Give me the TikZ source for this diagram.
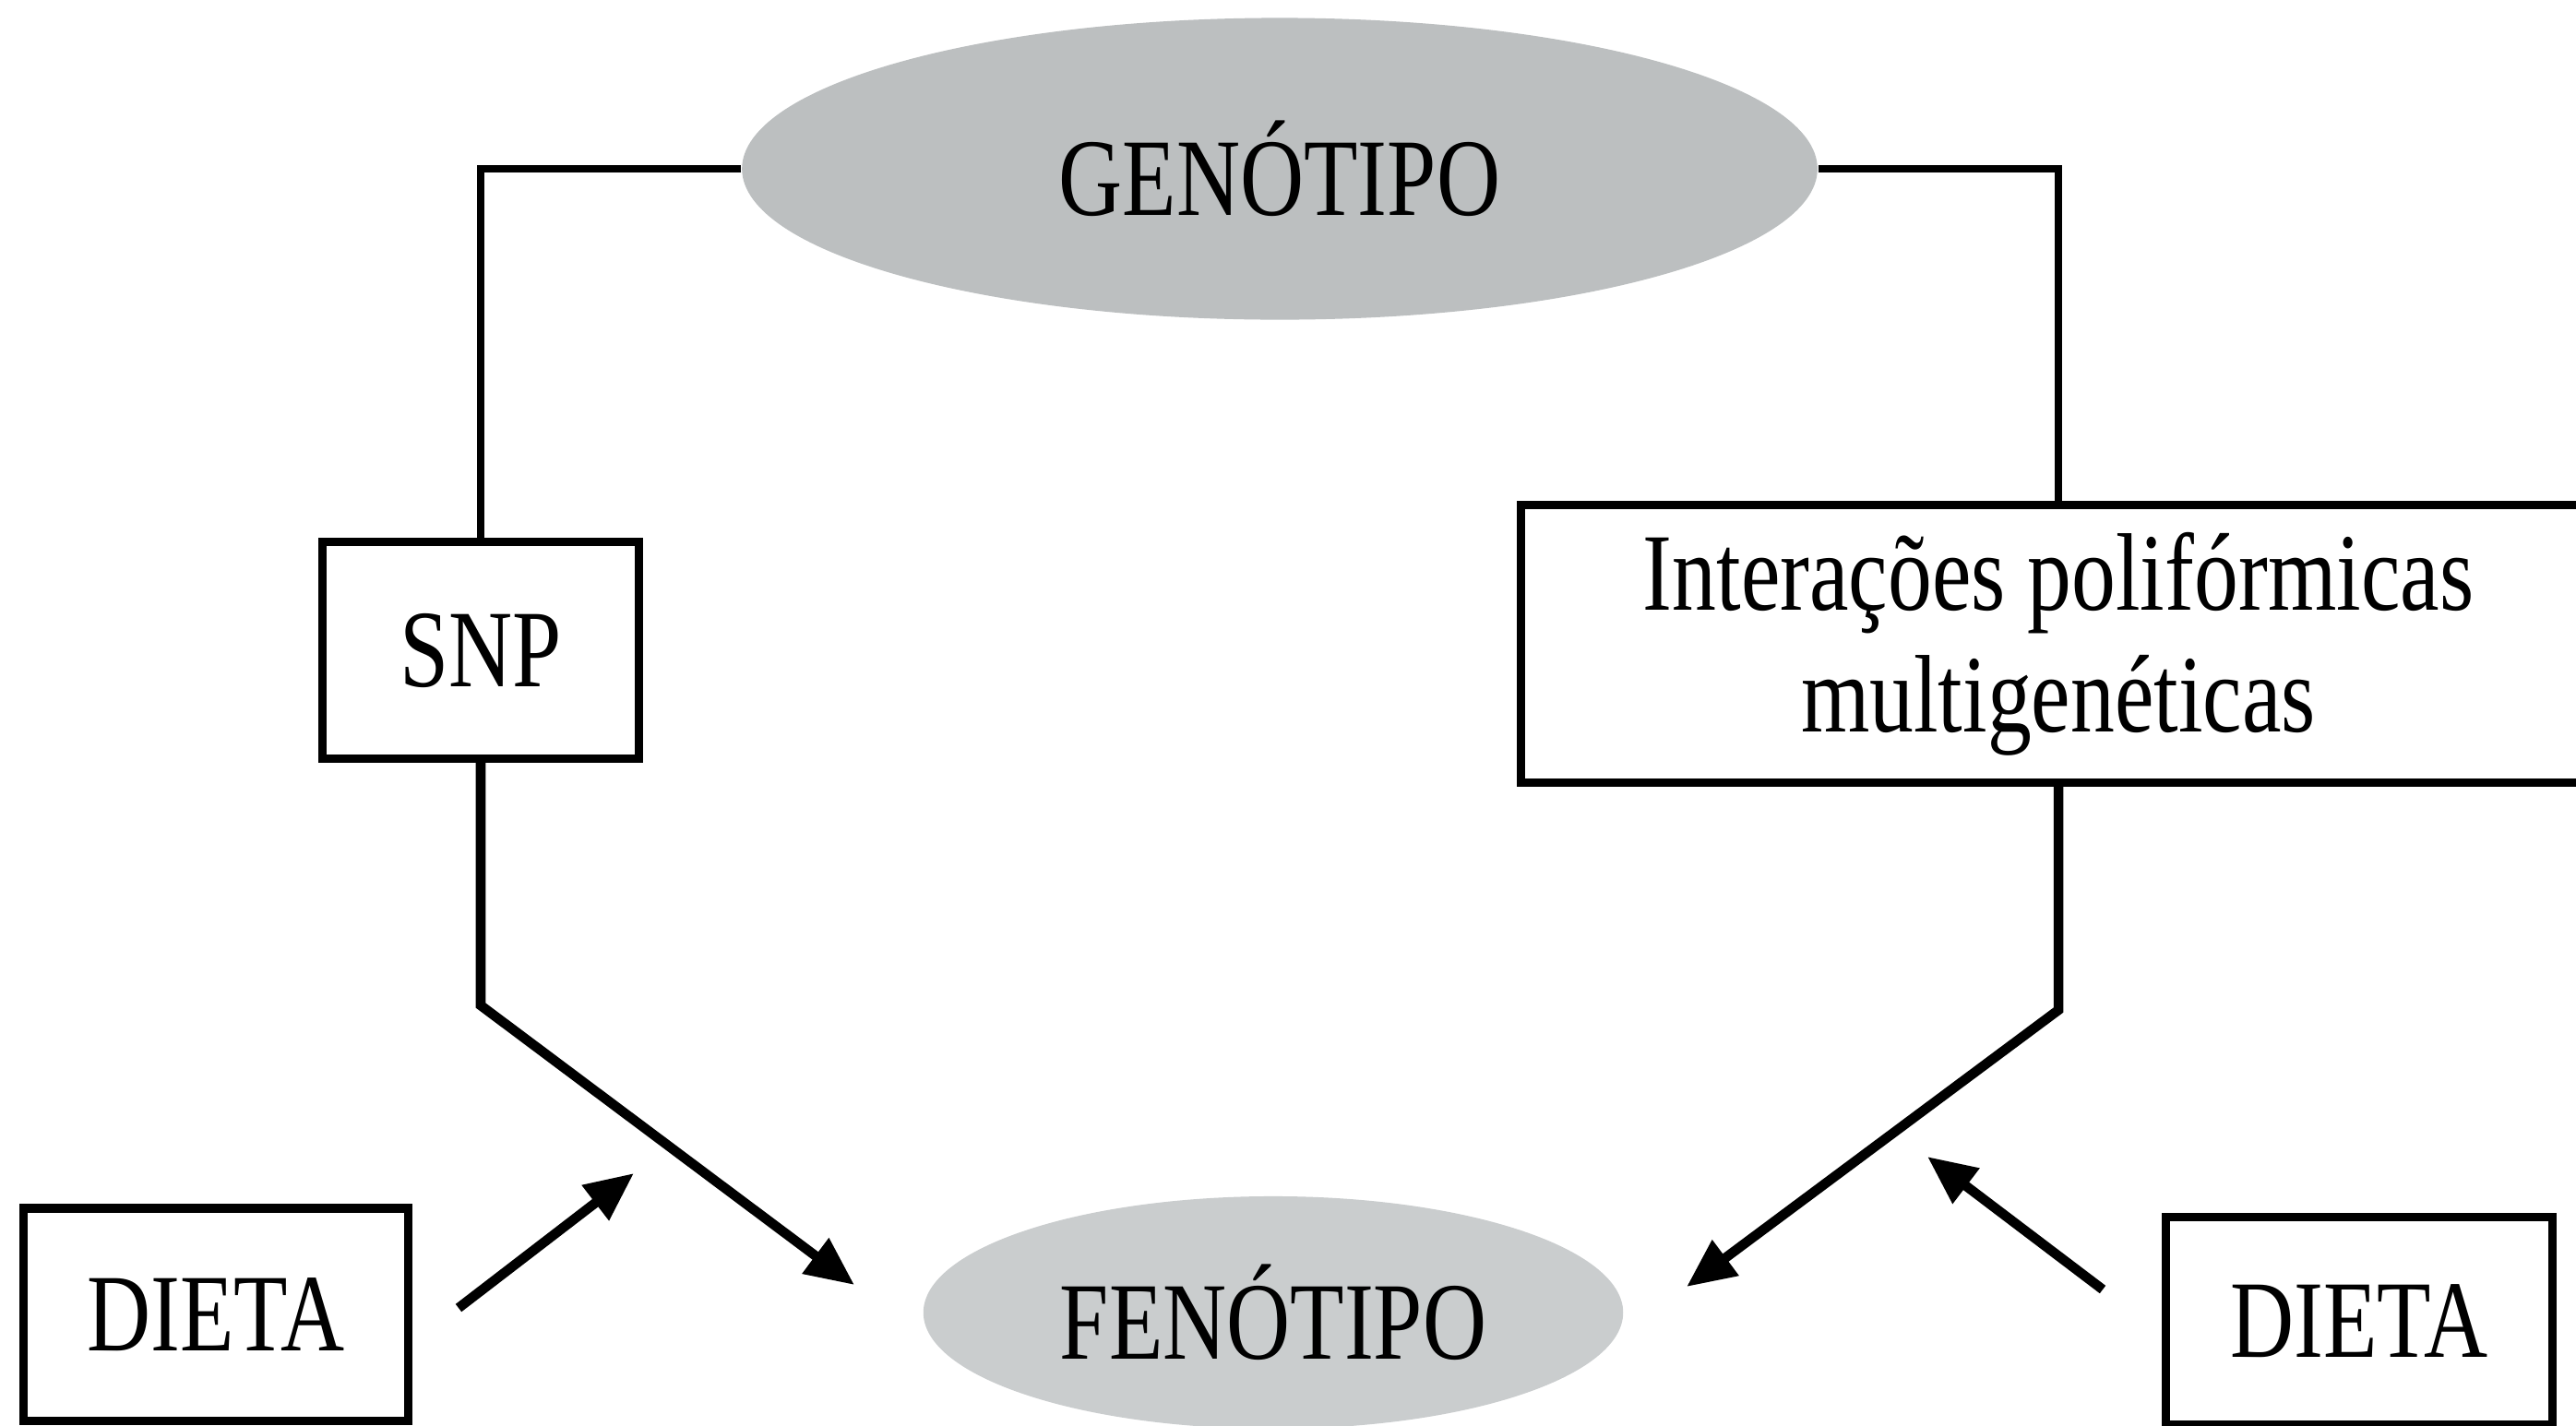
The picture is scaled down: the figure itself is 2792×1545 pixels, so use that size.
\documentclass[tikz,border=0pt]{standalone}
\usepackage{fontspec}
\setmainfont{Liberation Serif}[FakeStretch=0.8]
\usetikzlibrary{arrows.meta,shapes.geometric}
\definecolor{cinza}{RGB}{188,191,192}
\definecolor{cinzaclaro}{RGB}{202,205,206}

\begin{document}
\begin{tikzpicture}[x=0.01cm,y=-0.01cm,
    font=\fontsize{34}{37.5}\selectfont,
    elipse/.style={ellipse, fill=cinza, inner sep=0pt},
    caixa/.style={draw, line width=2.6pt, inner sep=0pt, align=center},
    liga/.style={line width=2.3pt},
    seta/.style={line width=3pt, -{Triangle[length=15pt,width=13pt]}}]
  \useasboundingbox (0,0) rectangle (2792,1545);

  % nodes
  \node[elipse, minimum width=11.65cm, minimum height=3.27cm] (gen) at (1387,183) {GENÓTIPO};
  \node[elipse, fill=cinzaclaro, minimum width=7.58cm, minimum height=2.52cm] (fen) at (1380,1423) {FENÓTIPO};
  \node[caixa, minimum width=3.42cm, minimum height=2.35cm] (snp) at (521,705) {SNP};
  \node[caixa, minimum width=11.64cm, minimum height=3.01cm] (inter) at (2231,698)
    {Interações polifórmicas\\multigenéticas};
  \node[caixa, minimum width=4.17cm, minimum height=2.30cm] (dietaE) at (234,1425) {DIETA};
  \node[caixa, minimum width=4.19cm, minimum height=2.25cm] (dietaD) at (2557,1432) {DIETA};

  % bends and free arrow ends
  \coordinate (kE) at (521,1090);
  \coordinate (pE) at (926,1393);
  \coordinate (kD) at (2231,1095);
  \coordinate (pD) at (1828,1395);
  \coordinate (dE1) at (497,1418);
  \coordinate (dE2) at (687,1272);
  \coordinate (dD1) at (2279,1398);
  \coordinate (dD2) at (2089,1254);

  % connectors
  \draw[liga] (gen.west) -| (snp.north);
  \draw[liga] (gen.east) -| (inter.north);
  \draw[seta] (snp.south) -- (kE) -- (pE);
  \draw[seta] (inter.south) -- (kD) -- (pD);
  \draw[seta] (dE1) -- (dE2);
  \draw[seta] (dD1) -- (dD2);
\end{tikzpicture}
\end{document}
